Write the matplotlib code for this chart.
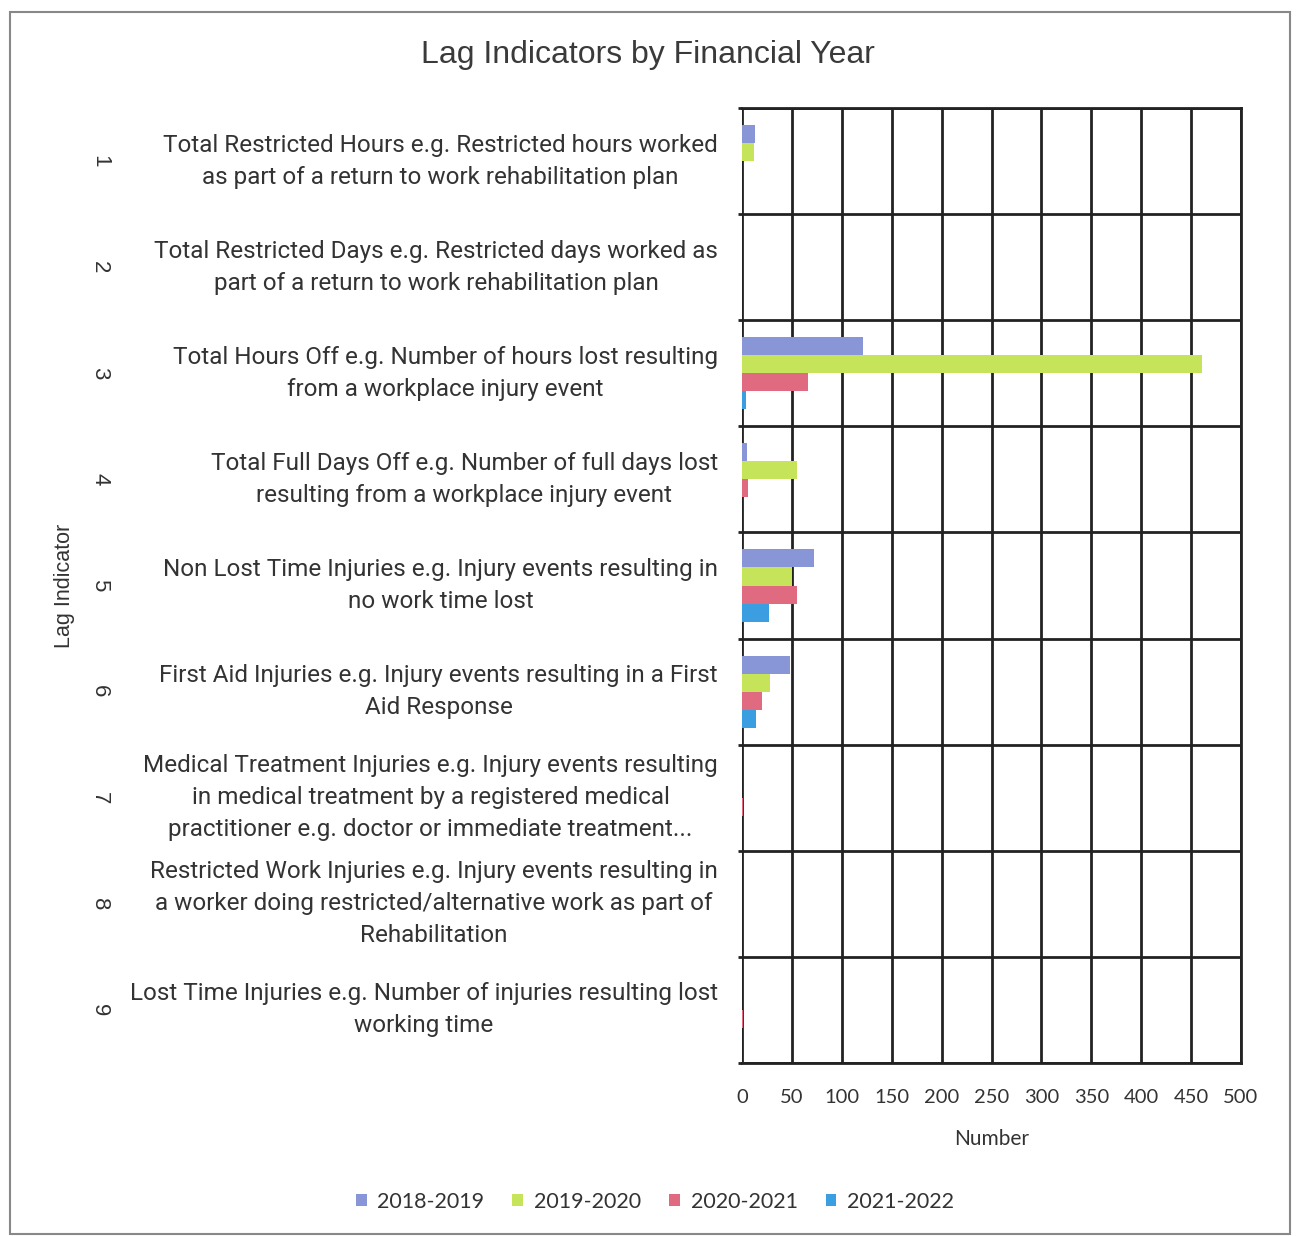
import numpy as np
import matplotlib.pyplot as plt
from matplotlib.patches import Rectangle

# Lag indicator table
nums = ['1', '2', '3', '4', '5', '6', '7', '8', '9']
labels = [
    'Total Restricted Hours e.g. Restricted hours worked\nas part of a return to work rehabilitation plan',
    'Total Restricted Days e.g. Restricted days worked as\npart of a return to work rehabilitation plan',
    'Total Hours Off e.g. Number of hours lost resulting\nfrom a workplace injury event',
    'Total Full Days Off e.g. Number of full days lost\nresulting from a workplace injury event',
    'Non Lost Time Injuries e.g. Injury events resulting in\nno work time lost',
    'First Aid Injuries e.g. Injury events resulting in a First\nAid Response',
    'Medical Treatment Injuries e.g. Injury events resulting\nin medical treatment by a registered medical\npractitioner e.g. doctor or immediate treatment...',
    'Restricted Work Injuries e.g. Injury events resulting in\na worker doing restricted/alternative work as part of\nRehabilitation',
    'Lost Time Injuries e.g. Number of injuries resulting lost\nworking time',
]
years = ['2018-2019', '2019-2020', '2020-2021', '2021-2022']
fy1819 = [13, 0, 121, 5, 72, 48, 0, 0, 0]
fy1920 = [12, 0, 461, 55, 50, 28, 0, 0, 0]
fy2021 = [0, 0, 66, 6, 55, 20, 1, 0, 1]
fy2122 = [0, 0, 4, 0, 27, 14, 0, 0, 0]
cols = ['#8896d8', '#c6e45a', '#e06a80', '#3a9ee0']

narrow = ['Roboto', 'DejaVu Sans']
arial = ['Liberation Sans', 'DejaVu Sans']
cal = ['Lato', 'DejaVu Sans']

fig = plt.figure(figsize=(12.96, 12.36), dpi=100)
ax = fig.add_axes([742/1296, 1-1063/1236, 499/1296, 955/1236])

y = np.arange(len(nums))
h = 0.17
for i, vals in enumerate([fy1819, fy1920, fy2021, fy2122]):
    ax.barh(y + (i - 1.5)*h, vals, height=h, color=cols[i], label=years[i], zorder=3)

ax.set_xlim(0, 500)
ax.set_ylim(8.5, -0.5)
ax.set_xticks(np.arange(0, 501, 50))
ax.set_yticks(y)
ax.set_yticklabels(nums, rotation=-90, fontsize=16, family=arial, va='center', color='#333333')
ax.set_yticks(np.arange(-0.5, 9, 1), minor=True)
ax.tick_params(axis='y', which='major', length=0, pad=455)
ax.tick_params(axis='y', which='minor', length=3, width=2, color='#222222')
ax.tick_params(axis='x', length=0, pad=19, labelsize=14.5, labelcolor='#333333')
for t in ax.get_xticklabels():
    t.set_family(cal)
ax.grid(True, axis='x', color='#222222', lw=2, zorder=1)
ax.grid(True, axis='y', which='minor', color='#222222', lw=2, zorder=1)
ax.spines['left'].set_visible(False)
for s in ['top', 'right', 'bottom']:
    ax.spines[s].set_color('#222222')
    ax.spines[s].set_linewidth(2)

for yi, txt in zip(y, labels):
    ax.text(-0.048, yi, txt, transform=ax.get_yaxis_transform(), ha='right', va='center',
            multialignment='center', fontsize=17.5, family=narrow, color='#333333',
            linespacing=1.5)

ax.set_xlabel('Number', fontsize=15, family=cal, color='#333333', labelpad=16)
ax.set_ylabel('Lag Indicator', fontsize=15.5, family=arial, color='#333333', labelpad=10)

fig.text(0.5, 1-55/1236, 'Lag Indicators by Financial Year', ha='center', va='center',
         fontsize=23, family=arial, color='#3a3a3a')

fig.legend(loc='center', bbox_to_anchor=(655/1296, 1-1202/1236), ncol=4, frameon=False,
           prop={'family': cal, 'size': 15.5}, handlelength=0.5, handleheight=0.5,
           handletextpad=0.5, columnspacing=1.3, labelcolor='#333333')

# outer frame of the chart area
fig.patches.append(Rectangle((10/1296, 0.002), 1280/1296, 1-12/1236-0.002, transform=fig.transFigure,
                             fill=False, edgecolor='#888888', lw=1.5))

plt.savefig('out.png', dpi=100)
